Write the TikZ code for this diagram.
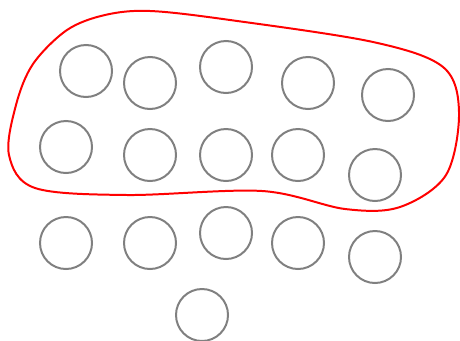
\documentclass[tikz,border=0pt]{standalone}
\usepackage{tikz}
\usetikzlibrary{positioning}

\begin{document}
\begin{tikzpicture}[
  x=0.03cm, y=-0.03cm,
  dot/.style={draw=gray, line width=1.7pt, circle, minimum size=1.56cm, inner sep=0pt},
]
  \useasboundingbox (0,0) rectangle (460,340);
  % circles
  \foreach \name/\px/\py in {a1/86/71, a2/150/83, a3/226/67, a4/308/83, a5/388/95,
                             b1/66/147, b2/150/155, b3/226/155, b4/298/155, b5/375/175,
                             c1/66/243, c2/150/243, c3/226/233, c4/298/243, c5/375/257,
                             d1/202/315} {
    \node[dot] (\name) at (\px,\py) {};
  }
  % red outline round the first two rows
  \draw[red, line width=1.7pt] plot[smooth cycle, tension=0.55] coordinates {
    (150,11) (230,20) (373,42) (443,67) (459,112) (446,175) (400,207)
    (345,209) (262,191) (127,195) (35,188) (9,155) (16,105) (33,64) (67,30) (105,15)
  };
\end{tikzpicture}
\end{document}
